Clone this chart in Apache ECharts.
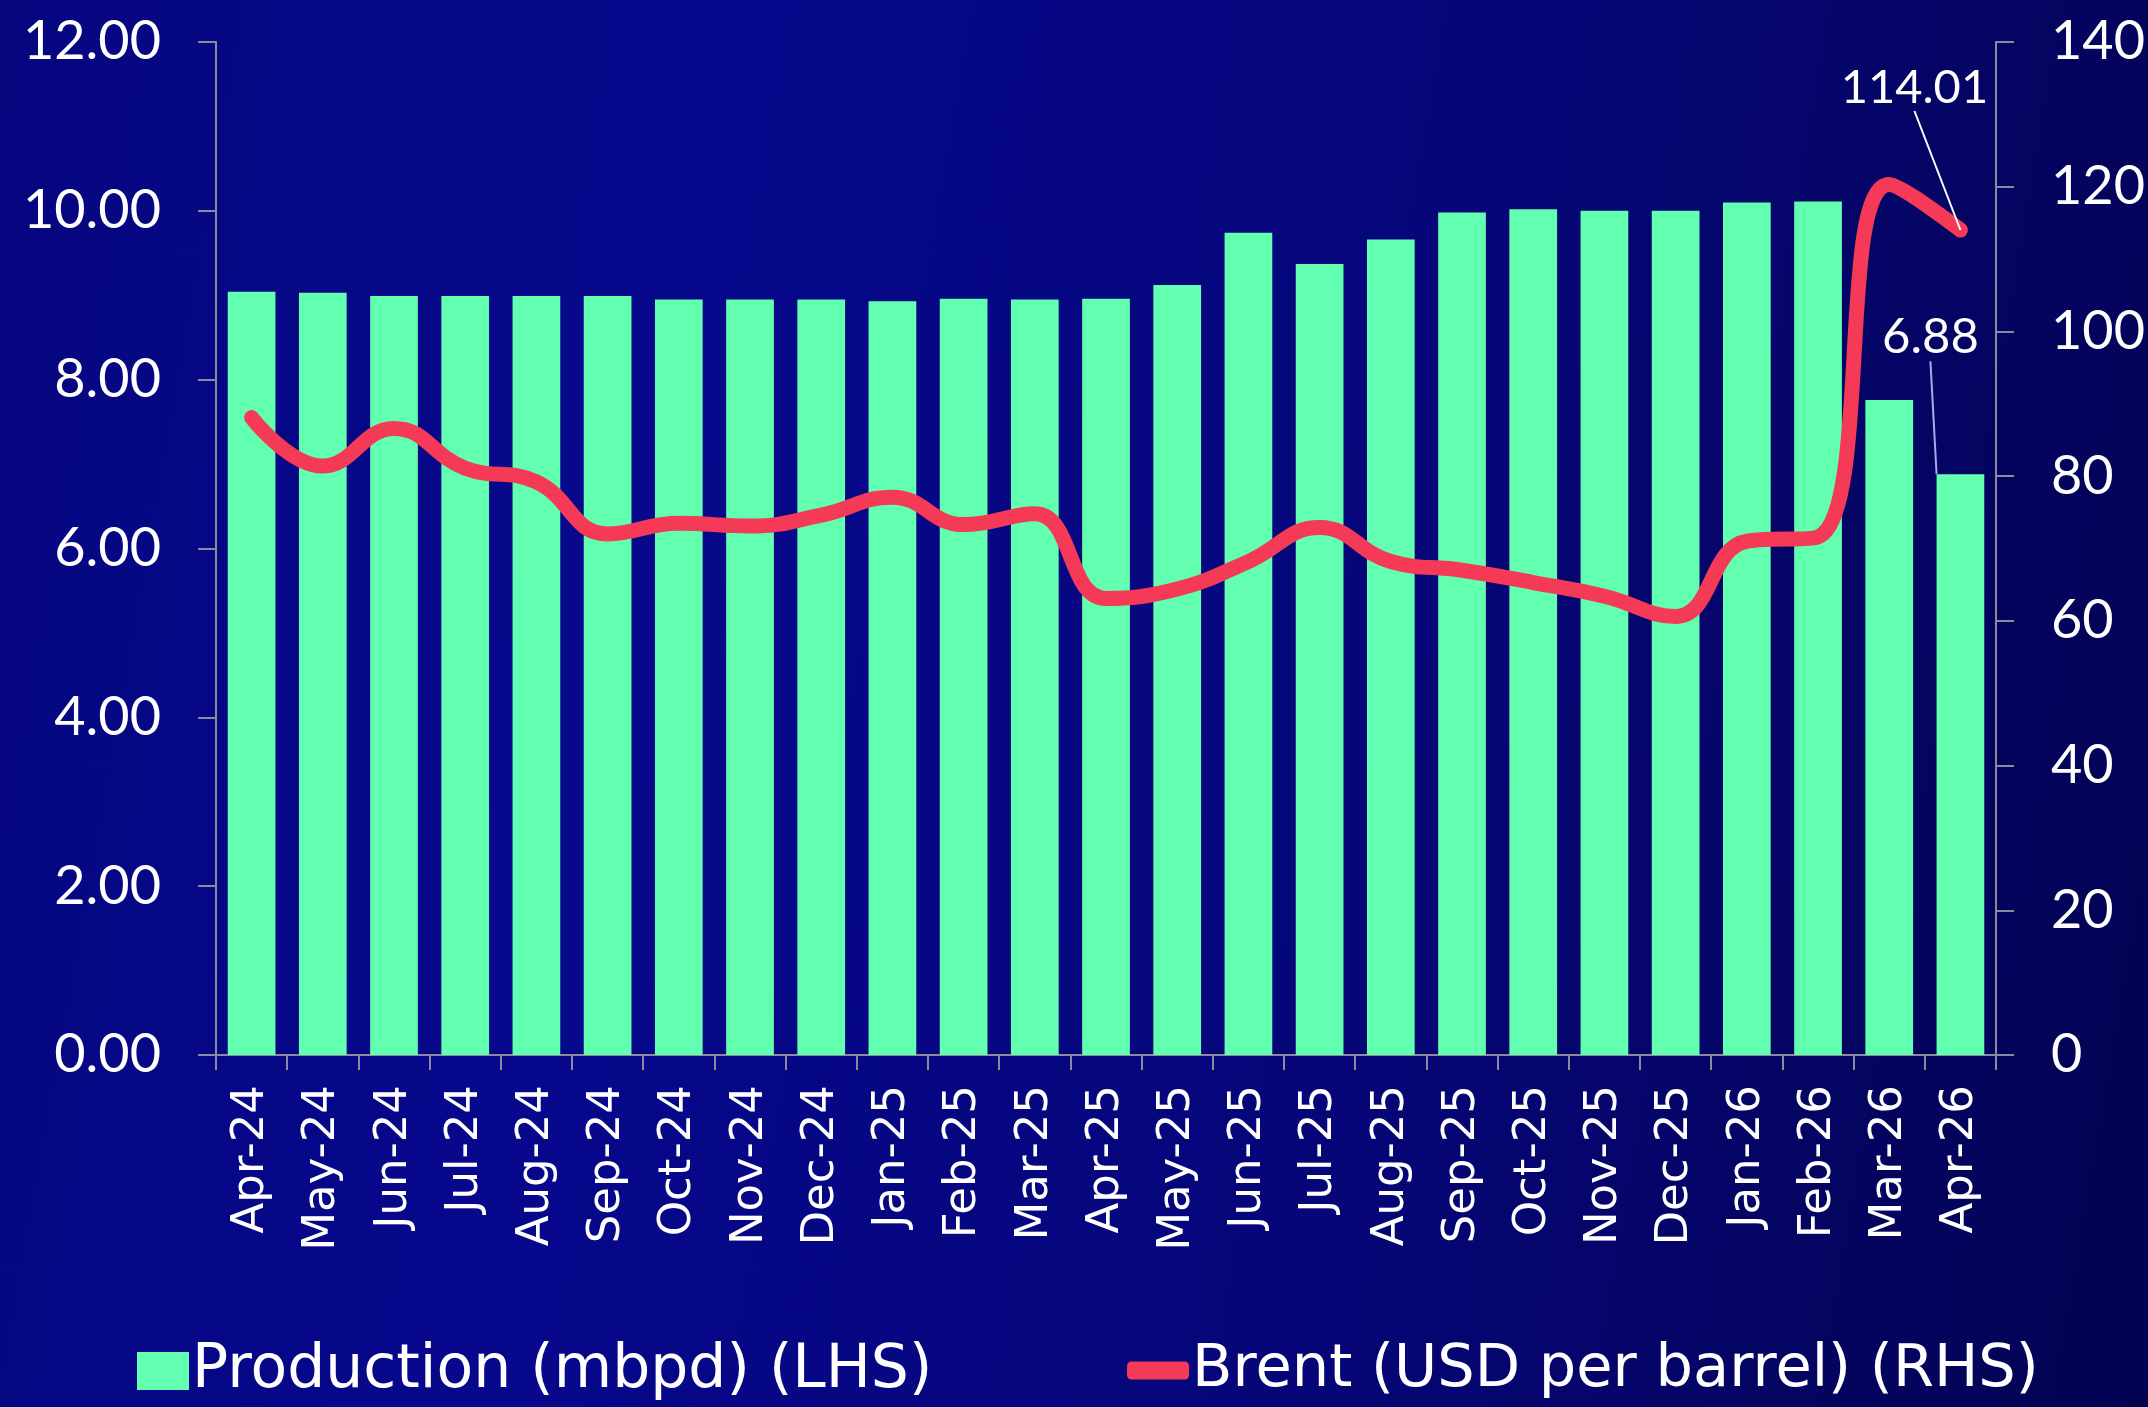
<!DOCTYPE html>
<html>
<head>
<meta charset="utf-8">
<script src="https://cdn.jsdelivr.net/npm/echarts@6/dist/echarts.min.js"></script>
<style>
  html, body { margin: 0; padding: 0; }
  body {
    width: 2148px; height: 1407px; overflow: hidden;
    background: linear-gradient(100deg, #06077f 0%, #07088c 30%, #06067a 62%, #030352 100%);
  }
  #chart { width: 2148px; height: 1407px; }
</style>
</head>
<body>
<div id="chart"></div>
<script>
// months on the x axis
var months = ['Apr-24','May-24','Jun-24','Jul-24','Aug-24','Sep-24','Oct-24','Nov-24','Dec-24',
  'Jan-25','Feb-25','Mar-25','Apr-25','May-25','Jun-25','Jul-25','Aug-25','Sep-25','Oct-25',
  'Nov-25','Dec-25','Jan-26','Feb-26','Mar-26','Apr-26'];

// production, mbpd (left axis)
var production = [9.04, 9.03, 8.99, 8.99, 8.99, 8.99, 8.95, 8.95, 8.95, 8.93, 8.96, 8.95, 8.96,
  9.12, 9.74, 9.37, 9.66, 9.98, 10.02, 10.00, 10.00, 10.10, 10.11, 7.76, 6.88];

// brent, USD per barrel (right axis)
var brent = [88.1, 81.4, 86.6, 81.1, 79.2, 72.0, 73.5, 73.1, 74.6, 77.1, 73.3, 74.8, 63.1,
  64.4, 68.2, 72.9, 68.2, 67.0, 65.3, 63.4, 60.6, 71.0, 71.6, 120.3, 114.01];

var leftTicks = {min: 0, max: 12, interval: 2};
var rightTicks = {min: 0, max: 140, interval: 20};

var FONT = 'Lato';
var TEXT_FONT = 'DejaVu Sans';
var axisGrey = '#8a8a9a';
var last = months.length - 1;

var chart = echarts.init(document.getElementById('chart'));

var option = {
    backgroundColor: 'transparent',
    textStyle: {fontFamily: FONT, color: '#fff'},
    grid: {left: 216, right: 148, top: 42, bottom: 352, containLabel: false},
    legend: [
        {
            data: [{name: 'Production (mbpd) (LHS)', icon: 'rect'}],
            left: 132, top: 1336,
            itemWidth: 52, itemHeight: 38, itemGap: 8,
            textStyle: {color: '#fff', fontSize: 60, fontFamily: TEXT_FONT, padding: [0, 0, 0, -2]}
        },
        {
            data: [{name: 'Brent (USD per barrel) (RHS)', icon: 'roundRect'}],
            left: 1122, top: 1336,
            itemWidth: 62, itemHeight: 18, itemGap: 8,
            textStyle: {color: '#fff', fontSize: 59, fontFamily: TEXT_FONT, padding: [0, 0, 0, -2]}
        }
    ],
    xAxis: {
        type: 'category',
        data: months,
        boundaryGap: true,
        axisLine: {lineStyle: {color: axisGrey, width: 2}},
        axisTick: {show: true, interval: 0, length: 15, lineStyle: {color: axisGrey, width: 2}},
        axisLabel: {interval: 0, rotate: 90, margin: 30, color: '#fff', fontSize: 45, fontFamily: TEXT_FONT},
        splitLine: {show: false}
    },
    yAxis: [
        {
            type: 'value',
            position: 'left',
            min: leftTicks.min, max: leftTicks.max, interval: leftTicks.interval,
            axisLine: {show: true, lineStyle: {color: axisGrey, width: 2}},
            axisTick: {show: true, length: 18, lineStyle: {color: axisGrey, width: 2}},
            axisLabel: {
                margin: 55, color: '#fff', fontSize: 54, fontFamily: FONT,
                formatter: function (v) { return v.toFixed(2); }
            },
            splitLine: {show: false}
        },
        {
            type: 'value',
            position: 'right',
            min: rightTicks.min, max: rightTicks.max, interval: rightTicks.interval,
            axisLine: {show: true, lineStyle: {color: axisGrey, width: 2}},
            axisTick: {show: true, length: 18, lineStyle: {color: axisGrey, width: 2}},
            axisLabel: {margin: 55, color: '#fff', fontSize: 54, fontFamily: FONT},
            splitLine: {show: false}
        }
    ],
    series: [
        {
            name: 'Production (mbpd) (LHS)',
            type: 'bar',
            yAxisIndex: 0,
            barCategoryGap: '33%',
            itemStyle: {color: '#63ffb1'},
            data: production.map(function (v, i) {
                if (i !== last) return v;
                return {
                    value: v,
                    label: {
                        show: true, position: 'top', color: '#fff', fontSize: 49, fontFamily: FONT,
                        formatter: function (p) { return p.value.toFixed(2); }
                    }
                };
            }),
            labelLine: {show: true, lineStyle: {color: '#a8a8f0', width: 2}},
            labelLayout: function (p) {
                if (p.dataIndex === last) return {dx: -30, dy: -108};
            },
            z: 1
        },
        {
            name: 'Brent (USD per barrel) (RHS)',
            type: 'line',
            yAxisIndex: 1,
            smooth: 0.45,
            showSymbol: true,
            symbol: 'circle',
            symbolSize: 0.1,
            lineStyle: {color: '#f43a56', width: 15, cap: 'round', join: 'round'},
            itemStyle: {color: '#f43a56'},
            data: brent.map(function (v, i) {
                if (i !== last) return v;
                return {
                    value: v,
                    label: {
                        show: true, position: 'top', color: '#fff', fontSize: 47, fontFamily: FONT,
                        formatter: function (p) { return p.value.toFixed(2); }
                    }
                };
            }),
            labelLine: {show: true, lineStyle: {color: '#ffffff', width: 2}},
            labelLayout: function (p) {
                if (p.dataIndex === last) return {dx: -46, dy: -114};
            },
            z: 3
        }
    ]
};

chart.setOption(option);
</script>
</body>
</html>
